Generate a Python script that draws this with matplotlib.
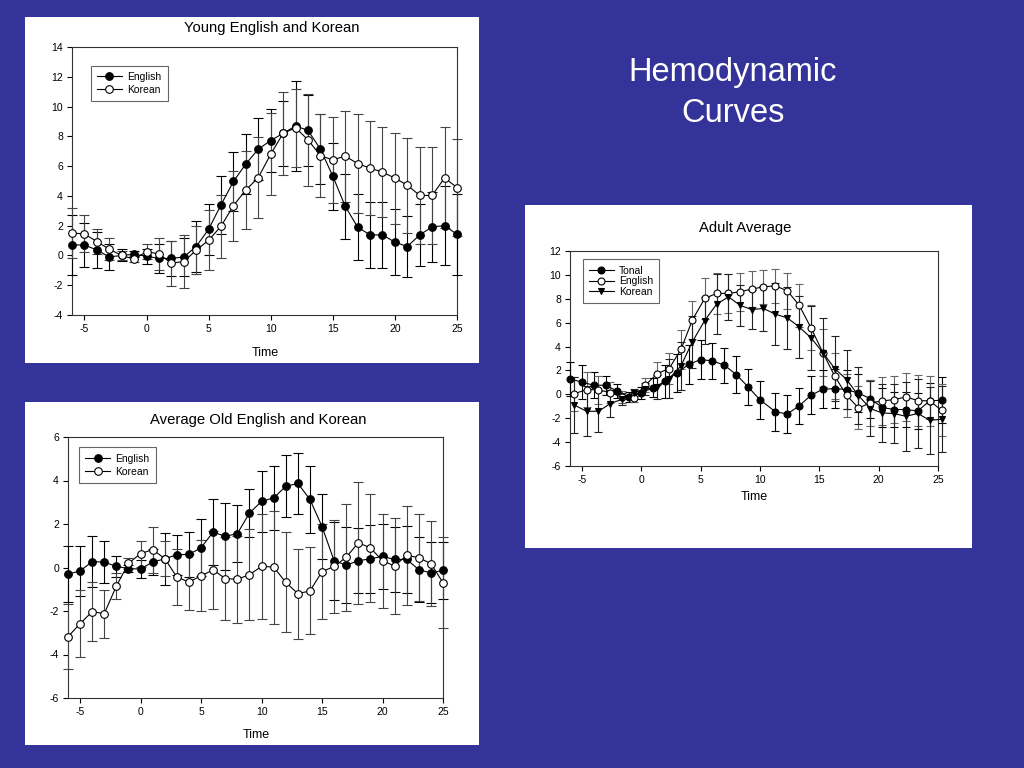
import matplotlib
matplotlib.use('Agg')
import matplotlib.pyplot as plt
from matplotlib.patches import Rectangle

plt.rcParams['font.family'] = ['Liberation Sans', 'DejaVu Sans']
plt.rcParams['axes.unicode_minus'] = False

# --- Young English and Korean ---
young_t = list(range(-6, 26))
young_eng = [0.71, 0.7, 0.37, -0.1, 0.0, 0.08, -0.05, -0.2, -0.2, -0.1, 0.6, 1.76, 3.4, 4.97, 6.15, 7.14,
             7.72, 8.2, 8.7, 8.4, 7.14, 5.33, 3.3, 1.9, 1.38, 1.38, 0.89, 0.6, 1.38, 1.92, 2.0, 1.42]
young_eng_err = [2.0, 1.5, 1.2, 0.87, 0.4, 0.2, 0.5, 1.0, 1.2, 1.25, 1.7, 1.7, 1.95, 2.0, 2.0, 2.1,
                 2.1, 2.2, 3.0, 2.4, 2.35, 2.25, 2.2, 2.2, 2.2, 2.2, 2.2, 2.05, 2.1, 2.35, 2.65, 2.7]
young_kor = [1.5, 1.45, 0.93, 0.42, 0.0, -0.25, 0.26, 0.1, -0.52, -0.41, 0.35, 1.02, 1.96, 3.35, 4.4, 5.23,
             6.8, 8.2, 8.57, 7.77, 6.7, 6.42, 6.67, 6.17, 5.86, 5.6, 5.19, 4.72, 4.03, 4.03, 5.21, 4.56]
young_kor_err = [1.7, 1.25, 0.85, 0.75, 0.3, 0.2, 0.5, 1.05, 1.5, 1.75, 1.6, 2.0, 2.1, 2.35, 2.6, 2.7,
                 2.75, 2.8, 2.6, 3.1, 2.8, 2.9, 3.05, 3.3, 3.15, 3.0, 3.05, 3.2, 3.25, 3.25, 3.4, 3.27]

# --- Average Old English and Korean ---
old_t = list(range(-6, 26))
old_eng = [-0.3, -0.16, 0.27, 0.25, 0.05, -0.05, -0.07, 0.25, 0.4, 0.59, 0.6, 0.91, 1.63, 1.43, 1.56, 2.5,
           3.04, 3.2, 3.73, 3.87, 3.13, 1.88, 0.31, 0.11, 0.31, 0.4, 0.51, 0.37, 0.37, -0.1, -0.25, -0.13]
old_eng_err = [1.3, 1.15, 1.16, 0.97, 0.5, 0.15, 0.4, 0.6, 1.2, 0.92, 1.05, 1.3, 1.5, 1.53, 1.33, 1.12,
               1.4, 1.47, 1.43, 1.4, 1.54, 1.5, 1.8, 1.75, 1.5, 1.55, 1.5, 1.5, 1.55, 1.5, 1.4, 1.3]
old_kor = [-3.18, -2.58, -2.03, -2.12, -0.85, 0.19, 0.64, 0.82, 0.41, -0.44, -0.67, -0.38, -0.11, -0.51, -0.54, -0.33,
           0.05, 0.02, -0.68, -1.2, -1.08, -0.19, 0.05, 0.47, 1.14, 0.9, 0.31, 0.07, 0.56, 0.45, 0.18, -0.7]
old_kor_err = [1.5, 1.55, 1.37, 1.1, 0.6, 0.25, 0.6, 1.05, 0.8, 1.3, 1.3, 1.64, 1.8, 1.92, 2.0, 2.1,
               2.4, 2.6, 2.3, 2.07, 2.0, 2.2, 2.15, 2.45, 2.8, 2.5, 2.17, 2.22, 2.28, 2.0, 1.95, 2.1]

# --- Adult Average ---
tonal_t = [-6, -5, -4, -3, -2, -1, 0, 1, 2, 3, 4, 5, 6, 7, 8, 9, 10,
           11.3, 12.3, 13.3, 14.3, 15.3, 16.3, 17.3, 18.3, 19.3, 20.3, 21.3, 22.3, 23.3, 24.3, 25.3]
tonal = [1.3, 1.02, 0.76, 0.76, 0.27, -0.22, 0.14, 0.54, 1.08, 1.8, 2.5, 2.91, 2.8, 2.44, 1.66, 0.63, -0.46,
         -1.45, -1.65, -0.97, -0.08, 0.43, 0.48, 0.4, 0.1, -0.36, -1.1, -1.27, -1.27, -1.39, -0.55, -0.49]
tonal_err = [1.4, 1.4, 1.1, 0.8, 0.6, 0.4, 0.5, 0.8, 1.4, 1.6, 1.6, 1.6, 1.5, 1.45, 1.55, 1.5, 1.6,
             1.6, 1.6, 1.5, 1.6, 1.6, 1.6, 1.6, 1.6, 1.6, 1.6, 1.5, 1.5, 1.5, 1.5, 1.9]
english_t = [-5.7, -4.6, -3.6, -2.6, -1.6, -0.6, 0.35, 1.35, 2.35, 3.35, 4.3, 5.35, 6.35, 7.35, 8.35, 9.3,
             10.3, 11.3, 12.3, 13.3, 14.3, 15.3, 16.3, 17.3, 18.3, 19.3, 20.3, 21.3, 22.3, 23.3, 24.3, 25.3]
english = [0.03, 0.4, 0.37, 0.15, -0.24, -0.27, 0.76, 1.74, 2.16, 3.76, 6.21, 8.03, 8.45, 8.45, 8.59, 8.81,
           9.0, 9.08, 8.67, 7.47, 5.57, 3.5, 1.52, -0.08, -1.14, -0.72, -0.55, -0.44, -0.22, -0.52, -0.55, -1.33]
english_err = [1.4, 1.5, 1.2, 0.9, 0.5, 0.4, 0.6, 1.0, 1.3, 1.6, 1.6, 1.7, 1.7, 1.65, 1.6, 1.5,
               1.4, 1.45, 1.5, 1.8, 1.9, 2.0, 1.9, 1.8, 1.8, 1.9, 2.0, 2.0, 2.0, 2.1, 2.1, 2.2]
korean = [-0.86, -1.42, -1.42, -0.77, -0.41, 0.15, 0.43, 0.6, 1.32, 2.38, 4.39, 6.18, 7.55, 8.16, 7.44, 7.1,
          7.19, 6.71, 6.4, 5.65, 4.73, 3.5, 2.16, 1.24, -0.1, -1.19, -1.56, -1.61, -1.84, -1.6, -2.17, -2.09]
korean_err = [2.35, 2.1, 1.7, 1.1, 0.5, 0.3, 0.5, 1.0, 1.6, 2.0, 2.2, 2.0, 2.5, 1.9, 1.7, 1.65,
              1.85, 2.6, 2.6, 2.6, 2.7, 2.85, 2.7, 2.5, 2.4, 2.3, 2.4, 2.5, 2.9, 2.9, 2.8, 2.75]

W, H = 1024, 768
fig = plt.figure(figsize=(W / 100, H / 100), dpi=100)
fig.patch.set_facecolor('#333399')


def px_rect(x0, y0, x1, y1):
    # pixel box (top-left origin) -> figure fraction [l, b, w, h]
    return [x0 / W, 1 - y1 / H, (x1 - x0) / W, (y1 - y0) / H]


# white panels behind the charts
for box in [(25, 17, 479, 363), (25, 402, 479, 745), (525, 205, 972, 548)]:
    l, b, w, h = px_rect(*box)
    fig.patches.append(Rectangle((l, b), w, h, transform=fig.transFigure,
                                 facecolor='white', edgecolor='none', zorder=-5))


def series(ax, t, y, err, marker, face, ecolor, ms, cap):
    eb = ax.errorbar(t, y, yerr=err, fmt='-', marker=marker, color='black', mfc=face, mec='black',
                     ms=ms, lw=0.8, mew=0.8, ecolor=ecolor, elinewidth=0.8, capsize=cap,
                     capthick=0.8, clip_on=False, zorder=3)
    return eb[0]


def style_axes(ax, ylim, yticks):
    ax.set_xlim(-6, 25)
    ax.set_ylim(*ylim)
    ax.set_xticks([-5, 0, 5, 10, 15, 20, 25])
    ax.set_yticks(yticks)
    ax.tick_params(direction='out', length=3.5, width=0.8, labelsize=7.5, pad=3)
    for s in ax.spines.values():
        s.set_linewidth(0.8)
        s.set_color('#333333')


def add_legend(ax, handles, labels, x, y, spacing):
    leg = ax.legend(handles, labels, loc='upper left', bbox_to_anchor=(x, y), fontsize=7.5,
                    frameon=True, fancybox=False, edgecolor='#666666', framealpha=1,
                    handlelength=2.4, labelspacing=spacing, borderpad=0.6, handletextpad=0.5)
    leg.get_frame().set_linewidth(0.8)


# panel 1
ax1 = fig.add_axes(px_rect(72, 47, 457, 315))
h1 = series(ax1, young_t, young_eng, young_eng_err, 'o', 'black', 'black', 5.5, 3.6)
h2 = series(ax1, young_t, young_kor, young_kor_err, 'o', 'white', '#444444', 5.5, 3.6)
style_axes(ax1, (-4, 14), range(-4, 15, 2))
add_legend(ax1, [h1, h2], ['English', 'Korean'], 0.035, 0.95, 0.3)
fig.text(272 / W, 1 - 28 / H, 'Young English and Korean', ha='center', va='center', fontsize=10.7)
fig.text(265 / W, 1 - 353 / H, 'Time', ha='center', va='center', fontsize=9)

# panel 2
ax2 = fig.add_axes(px_rect(68, 437, 443, 698))
h1 = series(ax2, old_t, old_eng, old_eng_err, 'o', 'black', 'black', 5.5, 3.6)
h2 = series(ax2, old_t, old_kor, old_kor_err, 'o', 'white', '#444444', 5.5, 3.6)
style_axes(ax2, (-6, 6), range(-6, 7, 2))
add_legend(ax2, [h1, h2], ['English', 'Korean'], 0.015, 0.98, 0.3)
fig.text(258 / W, 1 - 420 / H, 'Average Old English and Korean', ha='center', va='center', fontsize=10.7)
fig.text(256 / W, 1 - 735 / H, 'Time', ha='center', va='center', fontsize=9)

# panel 3
ax3 = fig.add_axes(px_rect(570, 251, 938, 466))
h1 = series(ax3, tonal_t, tonal, tonal_err, 'o', 'black', 'black', 5, 3.2)
h2 = series(ax3, english_t, english, english_err, 'o', 'white', '#666666', 5, 3.2)
h3 = series(ax3, english_t, korean, korean_err, 'v', 'black', '#222222', 5, 3.2)
style_axes(ax3, (-6, 12), range(-6, 13, 2))
add_legend(ax3, [h1, h2, h3], ['Tonal', 'English', 'Korean'], 0.02, 0.985, 0.05)
fig.text(745 / W, 1 - 228 / H, 'Adult Average', ha='center', va='center', fontsize=10.7)
fig.text(754 / W, 1 - 497 / H, 'Time', ha='center', va='center', fontsize=9)

# slide heading
fig.text(733 / W, 1 - 93 / H, 'Hemodynamic\nCurves', ha='center', va='center',
         fontsize=23.5, color='white', linespacing=1.38)

fig.savefig('out.png', dpi=100, facecolor=fig.get_facecolor())
